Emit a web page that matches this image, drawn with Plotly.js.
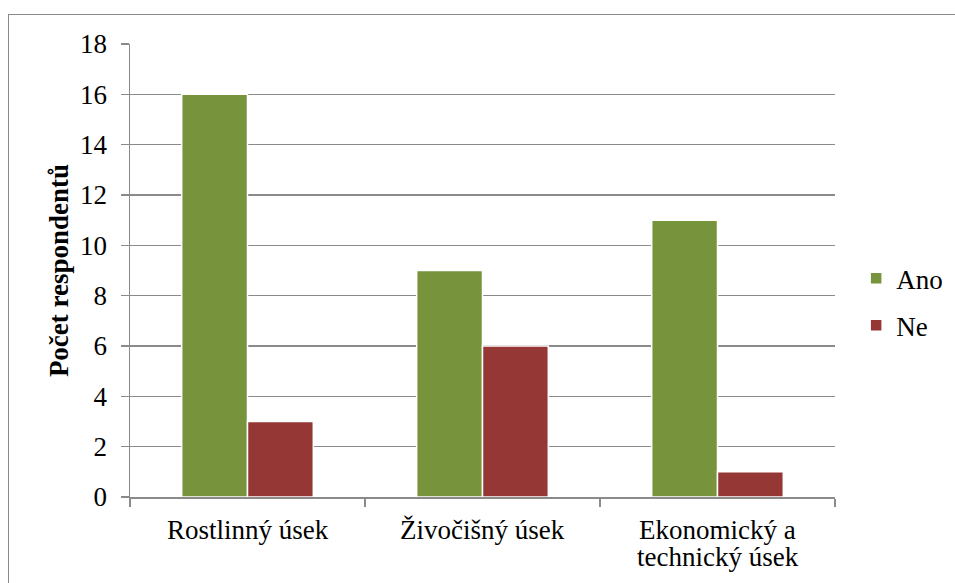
<!DOCTYPE html>
<html>
<head>
<meta charset="utf-8">
<script src="https://cdn.plot.ly/plotly-3.0.1.min.js"></script>
<style>
html,body{margin:0;padding:0;background:#fff;}
#wrap{position:relative;width:955px;height:583px;overflow:hidden;}
#chart{width:955px;height:583px;}
#frame{position:absolute;left:8px;top:14px;width:980px;height:600px;border:1.5px solid #8a8a8a;pointer-events:none;box-sizing:border-box;}
</style>
</head>
<body>
<div id="wrap"><div id="chart"></div><div id="frame"></div></div>
<script>
const categories = ["Rostlinný úsek", "Živočišný úsek", "Ekonomický a technický úsek"];
const categoryLabels = [["Rostlinný úsek"], ["Živočišný úsek"], ["Ekonomický a", "technický úsek"]];
const seriesNames = ["Ano", "Ne"];
const anoValues = [16, 9, 11];
const neValues = [3, 6, 1];
const yTicks = [0, 2, 4, 6, 8, 10, 12, 14, 16, 18];

const font = "Times New Roman, Liberation Serif, DejaVu Serif, serif";

const traces = [
  {type: 'bar', name: seriesNames[0], x: categories, y: anoValues, legendgroup: 'a',
   marker: {color: '#77933C', line: {color: '#ffffff', width: 1.5}}},
  {type: 'bar', name: seriesNames[1], x: categories, y: neValues, legendgroup: 'b',
   marker: {color: '#953735', line: {color: '#ffffff', width: 1.5}}}
];

const annotations = [];
categoryLabels.forEach((lines, i) => {
  lines.forEach((line, j) => {
    annotations.push({
      text: line, x: categories[i], xref: 'x', y: 0, yref: 'paper',
      xanchor: 'center', yanchor: 'middle', yshift: -33 - 27 * j, showarrow: false,
      font: {family: font, size: 27, color: '#000'}
    });
  });
});

const layout = {
  width: 955, height: 583,
  margin: {l: 130, r: 120, t: 44, b: 86, autoexpand: false},
  paper_bgcolor: '#ffffff', plot_bgcolor: '#ffffff',
  font: {family: font, size: 27, color: '#000'},
  barmode: 'group', bargap: 0.44, bargroupgap: 0.0,
  showlegend: true,
  legend: {x: 1.03, y: 0.43, xanchor: 'left', yanchor: 'middle', tracegroupgap: 9,
           font: {family: font, size: 27, color: '#000'}, itemwidth: 30},
  annotations: annotations,
  xaxis: {
    type: 'category', showgrid: false, showline: true, linecolor: '#8a8a8a', linewidth: 1.5,
    ticks: 'outside', tickson: 'boundaries', ticklen: 8, tickcolor: '#8a8a8a', tickwidth: 1.5,
    showticklabels: false, zeroline: false
  },
  yaxis: {
    range: [0, 18], tickvals: yTicks, showgrid: true, gridcolor: '#8a8a8a', gridwidth: 1.3,
    showline: true, linecolor: '#8a8a8a', linewidth: 1.5, zeroline: false,
    ticks: 'outside', ticklen: 8, tickcolor: '#8a8a8a', tickwidth: 1.5,
    tickfont: {family: font, size: 27, color: '#000'}, ticklabelstandoff: 8,
    title: {text: '<b>Počet respondentů</b>', font: {family: font, size: 27, color: '#000'}, standoff: 3}
  }
};

Plotly.newPlot('chart', traces, layout, {displayModeBar: false, staticPlot: true});
</script>
</body>
</html>
